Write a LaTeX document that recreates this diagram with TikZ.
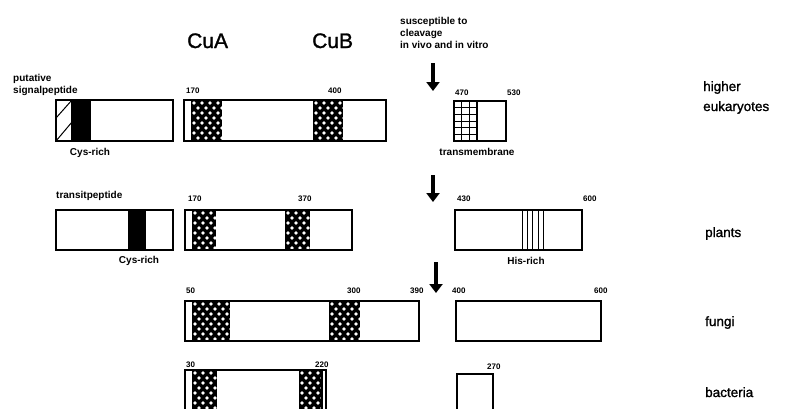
\documentclass[tikz,border=0pt]{standalone}
\usepackage{fontspec}
\setmainfont{Liberation Sans}
\newfontfamily\medfont[FakeBold=1.3]{Liberation Sans}
\usetikzlibrary{arrows.meta}
\tikzset{
  seg/.style  ={draw=black,line width=1.5pt},
  cu/.style   ={font=\medfont\fontsize{21}{24}\selectfont,inner sep=0pt},
  org/.style  ={font=\medfont\fontsize{13.5}{20}\selectfont,inner sep=0pt,align=left},
  lbl/.style  ={font=\fontsize{10}{12}\selectfont\bfseries,inner sep=0pt,align=left},
  num/.style  ={font=\fontsize{8}{9}\selectfont\bfseries,inner sep=0pt},
  arr/.style  ={line width=3.5pt,-{Triangle[width=13pt,length=9pt]}},
  thin/.style ={draw=black,line width=1pt},
}
% copper binding band: black with a lattice of white dots
\newcommand\cuband[4]{%
  \begin{scope}
    \clip (#1,#2) rectangle (#3,#4);
    \fill[black] (#1,#2) rectangle (#3,#4);
    \foreach \row in {0,...,9}
      \foreach \col in {0,...,5}
        \fill[white] ({#1+3+8*\col+4*mod(\row,2)},{#2+3+5*\row}) circle[radius=1.9pt];
  \end{scope}}

\begin{document}
\begin{tikzpicture}[x=1pt,y=-1pt]
  \useasboundingbox (0,0) rectangle (785,408);
  \clip (0,0) rectangle (785,408);

  % headings
  \node[cu,anchor=base west] (cua) at (187,48) {CuA};
  \node[cu,anchor=base west] (cub) at (312,48) {CuB};
  \node[lbl,anchor=north west] (cleave) at (400,17) {susceptible to\\cleavage\\in vivo and in vitro};

  % cleavage arrows
  \coordinate (ar1) at (433,63);  \coordinate (at1) at (433,91);
  \coordinate (ar2) at (433,175); \coordinate (at2) at (433,202);
  \coordinate (ar3) at (436,262); \coordinate (at3) at (436,293);
  \draw[arr] (ar1) -- (at1);
  \draw[arr] (ar2) -- (at2);
  \draw[arr] (ar3) -- (at3);

  % higher eukaryotes
  \node[lbl,anchor=north west] (sigp) at (13,74) {putative\\signalpeptide};
  \begin{scope}
    \clip (56,100) rectangle (72,141);
    \draw[thin] (56,118) -- (72,100);
    \draw[thin] (56,141) -- (72,122);
  \end{scope}
  \fill[black] (72,100) rectangle (91,141);
  \draw[seg] (56,100) rectangle (173,141);
  \draw[seg] (72,100) -- (72,141);
  \node[lbl,anchor=base] (cys1) at (90,155) {Cys-rich};

  \cuband{191}{100}{222}{141}
  \cuband{313}{100}{343}{141}
  \draw[seg] (184,100) rectangle (386,141);
  \node[num,anchor=base west] (n170a) at (186,93) {170};
  \node[num,anchor=base west] (n400a) at (328,93) {400};

  \foreach \gx in {461.7,469.3} \draw[thin] (\gx,101) -- (\gx,141);
  \foreach \gy in {107.7,114.3,121,127.7,134.3} \draw[thin] (454,\gy) -- (477,\gy);
  \draw[seg] (477,101) -- (477,141);
  \draw[seg] (454,101) rectangle (506,141);
  \node[num,anchor=base west] (n470) at (455,95) {470};
  \node[num,anchor=base west] (n530) at (507,95) {530};
  \node[lbl,anchor=base] (tm) at (477,155) {transmembrane};

  \node[org,anchor=base west] (euk) at (703,111) {higher\\eukaryotes};

  % plants
  \node[lbl,anchor=base west] (trp) at (56,198) {transitpeptide};
  \fill[black] (128,210) rectangle (146,250);
  \draw[seg] (56,210) rectangle (173,250);
  \node[lbl,anchor=base] (cys2) at (139,263) {Cys-rich};

  \cuband{192}{210}{216}{250}
  \cuband{285}{210}{310}{250}
  \draw[seg] (185,210) rectangle (352,250);
  \node[num,anchor=base west] (n170b) at (188,201) {170};
  \node[num,anchor=base west] (n370) at (298,201) {370};

  \foreach \hx in {522,527,532,538,543} \draw[thin] (\hx,210) -- (\hx,250);
  \draw[seg] (455,210) rectangle (582,250);
  \node[num,anchor=base west] (n430) at (457,201) {430};
  \node[num,anchor=base west] (n600a) at (583,201) {600};
  \node[lbl,anchor=base] (his) at (526,264) {His-rich};

  \node[org,anchor=base west] (plants) at (705,237) {plants};

  % fungi
  \cuband{192}{301}{230}{341}
  \cuband{329}{301}{360}{341}
  \draw[seg] (185,301) rectangle (419,341);
  \node[num,anchor=base west] (n50) at (186,293) {50};
  \node[num,anchor=base west] (n300) at (347,293) {300};
  \node[num,anchor=base west] (n390) at (410,293) {390};

  \draw[seg] (456,301) rectangle (601,341);
  \node[num,anchor=base west] (n400b) at (452,293) {400};
  \node[num,anchor=base west] (n600b) at (594,293) {600};

  \node[org,anchor=base west] (fungi) at (705,326) {fungi};

  % bacteria
  \cuband{192}{370}{217}{420}
  \cuband{299}{370}{322}{420}
  \draw[seg] (185,420) -- (185,370) -- (326,370) -- (326,420);
  \draw[seg] (322,370) -- (322,420);
  \node[num,anchor=base west] (n30) at (186,367) {30};
  \node[num,anchor=base west] (n220) at (315,367) {220};

  \draw[seg] (457,420) -- (457,374) -- (493,374) -- (493,420);
  \node[num,anchor=base west] (n270) at (487,369) {270};

  \node[org,anchor=base west] (bact) at (705,397) {bacteria};
\end{tikzpicture}
\end{document}
